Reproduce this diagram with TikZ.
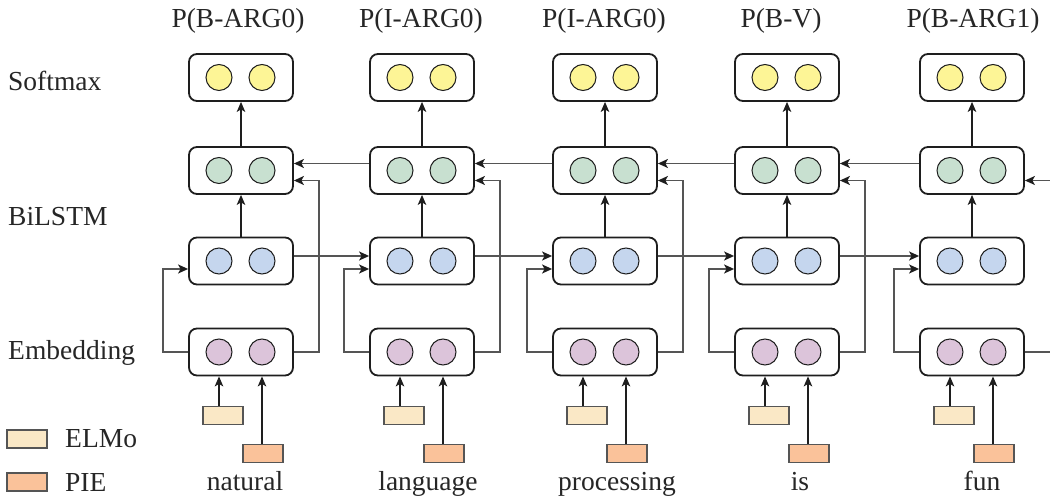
\documentclass[tikz,border=0pt]{standalone}
\usepackage{fontspec}
\setmainfont{Liberation Serif}
\usetikzlibrary{arrows.meta,calc}
\definecolor{cY}{RGB}{253,245,150}
\definecolor{cG}{RGB}{200,224,208}
\definecolor{cB}{RGB}{197,214,238}
\definecolor{cP}{RGB}{220,196,218}
\definecolor{cE}{RGB}{250,232,198}
\definecolor{cF}{RGB}{250,194,154}
\definecolor{cLine}{RGB}{85,85,85}
\definecolor{cDark}{RGB}{30,30,30}
\tikzset{
  layerbox/.style={draw=cDark, line width=1.8pt, rounded corners=8pt, minimum width=104pt, minimum height=47pt, inner sep=0pt},
  unit/.style={circle, draw=cDark, line width=1pt, minimum size=26pt, inner sep=0pt},
  featbox/.style={draw=cLine, line width=1.3pt, minimum width=40pt, minimum height=18pt, inner sep=0pt},
  hconn/.style={draw=cLine, line width=1.5pt, -{Stealth[length=10pt,width=9pt,inset=2.5pt,color=cDark]}},
  hline/.style={draw=cLine, line width=1.5pt},
  vconn/.style={draw=cDark, line width=1.4pt, -{Stealth[length=10pt,width=8.5pt,inset=2.5pt]}},
  lbl/.style={font=\fontsize{27.5}{30}\selectfont, inner sep=0pt, text=black!85},
}
\begin{document}
\begin{tikzpicture}[x=1pt,y=-1pt]
\useasboundingbox (0,0) rectangle (1050,502);
% left labels
\node[lbl, anchor=base west] (lsoft) at (8,91) {Softmax};
\node[lbl, anchor=base west] (lbil) at (8,226) {BiLSTM};
\node[lbl, anchor=base west] (lemb) at (8,360) {Embedding};
% legend
\node[featbox, fill=cE] (legE) at (27,439) {};
\node[featbox, fill=cF] (legF) at (27,482) {};
\node[lbl, anchor=base west] (legEt) at (65,448) {ELMo};
\node[lbl, anchor=base west] (legFt) at (65,491) {PIE};
% columns
\foreach \i/\cx/\tx/\tl/\wx/\w in {1/241/238/P(B-ARG0)/245/natural, 2/422/421/P(I-ARG0)/428/language, 3/605/604/P(I-ARG0)/617/processing, 4/787/781/P(B-V)/800/is, 5/972/973/P(B-ARG1)/982/fun}{
  \node[lbl, anchor=base] (top\i) at (\tx,28) {\tl};
  \node[lbl, anchor=base] (w\i) at (\wx,490) {\w};
  \node[layerbox] (s\i) at (\cx,77.5) {};
  \node[layerbox] (g\i) at (\cx,170.5) {};
  \node[layerbox] (b\i) at (\cx,261) {};
  \node[layerbox] (p\i) at (\cx,352) {};
  \node[unit, fill=cY] (sa\i) at (\cx-22,77.5) {};
  \node[unit, fill=cY] (sb\i) at (\cx+21,77.5) {};
  \node[unit, fill=cG] (ga\i) at (\cx-22,170.5) {};
  \node[unit, fill=cG] (gb\i) at (\cx+21,170.5) {};
  \node[unit, fill=cB] (ba\i) at (\cx-22,261) {};
  \node[unit, fill=cB] (bb\i) at (\cx+21,261) {};
  \node[unit, fill=cP] (pa\i) at (\cx-22,352) {};
  \node[unit, fill=cP] (pb\i) at (\cx+21,352) {};
  \node[featbox, fill=cE] (e\i) at (\cx-18,415.5) {};
  \node[featbox, fill=cF] (f\i) at (\cx+22,453.5) {};
  % vertical arrows
  \draw[vconn] (g\i.north) -- (s\i.south);
  \draw[vconn] (b\i.north) -- (g\i.south);
  \draw[vconn] (e\i.north -| pa\i) -- (pa\i |- p\i.south);
  \draw[vconn] (f\i.north -| pb\i) -- (pb\i |- p\i.south);
  % embedding loop into BiLSTM forward
  \draw[hconn] (p\i.west) -- ++(-25,0) |- ($(b\i.west)+(0,8)$);
}
% risers from embedding to backward LSTM
\foreach \i in {1,2,3,4}{
  \draw[hconn] (p\i.east) -- ++(25,0) |- ($(g\i.east)+(0,10)$);
}
\coordinate (edgeP) at (1050,352);
\coordinate (edgeG) at (1050,180.5);
\draw[hline] (p5.east) -- (edgeP);
\draw[hconn] (edgeG) -- ($(g5.east)+(0,10)$);
% recurrent connections
\foreach \i/\j in {1/2,2/3,3/4,4/5}{
  \draw[hconn] ($(g\j.west)+(0,-7)$) -- ($(g\i.east)+(0,-7)$);
  \draw[hconn] ($(b\i.east)+(0,-5)$) -- ($(b\j.west)+(0,-5)$);
}
\end{tikzpicture}
\end{document}
